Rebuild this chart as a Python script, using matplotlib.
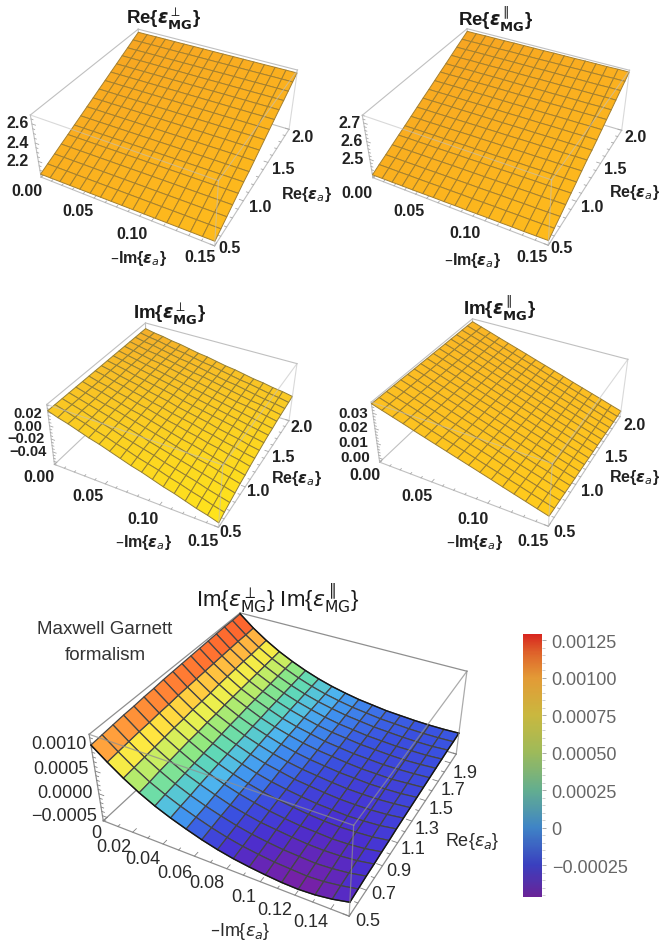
import numpy as np
import matplotlib
matplotlib.use("Agg")
import matplotlib.pyplot as plt
from matplotlib.colors import LinearSegmentedColormap, Normalize
from matplotlib.cm import ScalarMappable

plt.rcParams["font.family"] = ["Liberation Sans", "DejaVu Sans"]
plt.rcParams["mathtext.fontset"] = "dejavusans"

W, H = 661, 945

# grid of the surfaces
im_eps = [0.0, 0.009375, 0.01875, 0.028125, 0.0375, 0.046875, 0.05625, 0.065625, 0.075,
          0.084375, 0.09375, 0.103125, 0.1125, 0.121875, 0.13125, 0.140625, 0.15]
re_eps = [0.5, 0.59375, 0.6875, 0.78125, 0.875, 0.96875, 1.0625, 1.15625, 1.25,
          1.34375, 1.4375, 1.53125, 1.625, 1.71875, 1.8125, 1.90625, 2.0]

# rows go with re_eps, columns with im_eps
re_perp = np.array([
    [2055,2056,2057,2058,2059,2060,2061,2062,2063,2064,2065,2066,2067,2068,2069,2070,2071],
    [2093,2094,2095,2096,2097,2098,2099,2100,2101,2102,2103,2104,2105,2106,2107,2108,2109],
    [2130,2131,2132,2133,2134,2135,2136,2137,2138,2139,2140,2141,2142,2143,2144,2145,2146],
    [2168,2169,2170,2171,2172,2173,2174,2175,2176,2177,2178,2179,2180,2181,2182,2183,2184],
    [2205,2206,2207,2208,2209,2210,2211,2212,2213,2214,2215,2216,2217,2218,2219,2220,2221],
    [2243,2244,2245,2246,2247,2248,2249,2250,2251,2252,2253,2254,2255,2256,2257,2258,2259],
    [2280,2281,2281,2282,2282,2283,2283,2284,2284,2285,2285,2286,2286,2287,2287,2288,2288],
    [2318,2319,2319,2320,2320,2321,2321,2322,2322,2323,2323,2324,2324,2325,2325,2326,2326],
    [2355,2356,2356,2357,2357,2358,2358,2359,2359,2360,2360,2361,2361,2362,2362,2363,2363],
    [2393,2394,2394,2395,2395,2396,2396,2397,2397,2398,2398,2399,2399,2400,2400,2401,2401],
    [2430,2431,2431,2432,2432,2433,2433,2434,2434,2435,2435,2436,2436,2437,2437,2438,2438],
    [2468,2469,2469,2470,2470,2471,2471,2472,2472,2473,2473,2474,2474,2475,2475,2476,2476],
    [2505,2506,2506,2507,2507,2508,2508,2509,2509,2510,2510,2511,2511,2512,2512,2513,2513],
    [2543,2543,2544,2544,2544,2544,2545,2545,2545,2545,2546,2546,2546,2546,2547,2547,2547],
    [2580,2580,2581,2581,2581,2581,2582,2582,2582,2582,2583,2583,2583,2583,2584,2584,2584],
    [2618,2618,2619,2619,2619,2619,2620,2620,2620,2620,2621,2621,2621,2621,2622,2622,2622],
    [2655,2655,2656,2656,2656,2656,2657,2657,2657,2657,2658,2658,2658,2658,2659,2659,2659]]) * 1e-3

re_par = np.array([
    [2410,2411,2411,2412,2412,2413,2414,2414,2415,2415,2416,2417,2417,2418,2418,2419,2420],
    [2430,2431,2431,2432,2432,2433,2434,2434,2435,2435,2436,2437,2437,2438,2438,2439,2440],
    [2449,2450,2450,2451,2451,2452,2453,2453,2454,2454,2455,2456,2456,2457,2457,2458,2459],
    [2469,2470,2470,2471,2471,2472,2473,2473,2474,2474,2475,2476,2476,2477,2477,2478,2479],
    [2489,2490,2490,2491,2491,2492,2493,2493,2494,2494,2495,2496,2496,2497,2497,2498,2499],
    [2508,2509,2509,2510,2510,2511,2512,2512,2513,2513,2514,2515,2515,2516,2516,2517,2518],
    [2528,2529,2529,2530,2530,2531,2532,2532,2533,2533,2534,2535,2535,2536,2536,2537,2538],
    [2548,2549,2549,2550,2550,2551,2552,2552,2553,2553,2554,2555,2555,2556,2556,2557,2558],
    [2568,2568,2569,2569,2569,2570,2570,2570,2570,2571,2571,2571,2572,2572,2572,2573,2573],
    [2587,2587,2588,2588,2588,2589,2589,2589,2589,2590,2590,2590,2591,2591,2591,2592,2592],
    [2607,2607,2608,2608,2608,2609,2609,2609,2609,2610,2610,2610,2611,2611,2611,2612,2612],
    [2627,2627,2628,2628,2628,2629,2629,2629,2629,2630,2630,2630,2631,2631,2631,2632,2632],
    [2646,2646,2647,2647,2647,2648,2648,2648,2648,2649,2649,2649,2650,2650,2650,2651,2651],
    [2666,2666,2667,2667,2667,2668,2668,2668,2668,2669,2669,2669,2670,2670,2670,2671,2671],
    [2686,2686,2687,2687,2687,2688,2688,2688,2688,2689,2689,2689,2690,2690,2690,2691,2691],
    [2705,2705,2706,2706,2706,2707,2707,2707,2707,2708,2708,2708,2709,2709,2709,2710,2710],
    [2725,2725,2726,2726,2726,2727,2727,2727,2727,2728,2728,2728,2729,2729,2729,2730,2730]]) * 1e-3

im_perp = np.array([
    [22,17,13,8,3,-1,-6,-11,-16,-20,-25,-30,-34,-39,-44,-48,-53],
    [22,18,13,9,4,0,-5,-9,-14,-18,-22,-27,-31,-36,-40,-45,-49],
    [22,18,14,9,5,1,-4,-8,-12,-16,-21,-25,-29,-33,-38,-42,-46],
    [22,18,14,10,6,2,-2,-6,-11,-15,-19,-23,-27,-31,-35,-39,-43],
    [22,18,14,10,7,3,-1,-5,-9,-13,-17,-21,-25,-28,-32,-36,-40],
    [22,18,15,11,7,3,0,-4,-8,-12,-16,-19,-23,-27,-31,-34,-38],
    [22,18,15,11,8,4,1,-3,-7,-10,-14,-17,-21,-24,-28,-31,-35],
    [22,19,15,12,8,5,1,-2,-6,-9,-12,-16,-19,-23,-26,-30,-33],
    [22,19,15,12,9,5,2,-1,-5,-8,-11,-14,-18,-21,-24,-28,-31],
    [22,19,16,12,9,6,3,0,-4,-7,-10,-13,-16,-19,-23,-26,-29],
    [22,19,16,13,10,7,4,1,-3,-6,-9,-12,-15,-18,-21,-24,-27],
    [22,19,16,13,10,7,4,1,-2,-5,-8,-11,-14,-17,-20,-23,-26],
    [22,19,16,13,11,8,5,2,-1,-4,-7,-10,-13,-15,-18,-21,-24],
    [22,19,16,14,11,8,5,2,0,-3,-6,-9,-12,-15,-17,-20,-23],
    [22,19,17,14,11,8,6,3,0,-3,-6,-8,-11,-14,-17,-19,-22],
    [22,19,17,14,11,9,6,3,1,-2,-5,-8,-10,-13,-16,-18,-21],
    [22,19,17,14,12,9,6,4,1,-2,-4,-7,-10,-12,-15,-17,-20]]) * 1e-3

im_par = np.array([
    [360,340,320,300,279,259,239,219,199,179,159,139,118,98,78,58,38],
    [359,339,319,299,278,258,238,218,198,177,157,137,117,97,76,56,36],
    [359,339,319,298,278,258,238,217,197,177,157,136,116,96,76,55,35],
    [358,338,317,297,277,256,236,216,196,175,155,135,114,94,74,53,33],
    [358,338,317,297,276,256,235,215,195,174,154,133,113,92,72,51,31],
    [357,337,316,296,275,255,234,214,193,173,152,132,111,91,70,50,29],
    [356,336,315,295,274,254,233,213,192,172,151,131,110,90,69,49,28],
    [356,335,315,294,274,253,232,212,191,170,150,129,109,88,67,47,26],
    [355,334,314,293,272,252,231,210,190,169,148,127,107,86,65,45,24],
    [355,334,313,293,272,251,230,209,189,168,147,126,105,85,64,43,22],
    [354,333,312,292,271,250,229,208,188,167,146,125,104,84,63,42,21],
    [353,332,311,290,270,249,228,207,186,165,144,123,102,82,61,40,19],
    [353,332,311,290,269,248,227,206,185,164,143,122,101,80,59,38,17],
    [352,331,310,289,268,247,226,205,184,162,141,120,99,78,57,36,15],
    [352,331,310,289,267,246,225,204,183,162,141,120,98,77,56,35,14],
    [351,330,309,287,266,245,224,203,182,160,139,118,97,76,54,33,12],
    [350,329,308,286,265,244,223,201,180,159,138,116,95,74,53,31,10]]) * 1e-4

im_prod = np.array([
    [105,80,57,37,20,6,-6,-17,-26,-33,-38,-42,-45,-46,-44,-39,-31],
    [107,82,59,39,23,9,-3,-14,-23,-30,-35,-39,-41,-43,-41,-36,-29],
    [109,84,61,42,25,11,-1,-11,-20,-27,-32,-36,-38,-40,-38,-34,-27],
    [111,86,63,44,27,14,2,-9,-17,-24,-28,-32,-35,-36,-35,-32,-26],
    [112,87,65,46,29,16,4,-6,-14,-21,-26,-30,-32,-34,-33,-30,-24],
    [114,89,67,48,31,18,6,-4,-12,-18,-23,-27,-30,-31,-30,-28,-23],
    [115,90,68,49,33,20,8,-2,-10,-16,-21,-25,-27,-29,-28,-26,-21],
    [117,92,70,51,35,22,10,0,-7,-14,-18,-22,-25,-26,-26,-24,-20],
    [118,93,71,52,37,23,12,2,-6,-12,-16,-20,-23,-24,-24,-22,-19],
    [119,94,72,54,38,25,14,4,-4,-10,-14,-18,-20,-22,-22,-21,-18],
    [120,95,74,55,40,26,15,6,-2,-8,-12,-16,-19,-20,-21,-19,-17],
    [121,96,75,56,41,28,16,7,0,-7,-11,-15,-17,-19,-19,-18,-16],
    [122,97,76,57,42,29,18,9,1,-5,-9,-13,-15,-17,-18,-17,-15],
    [123,98,77,58,43,30,19,10,2,-4,-8,-12,-14,-16,-16,-16,-14],
    [124,99,77,59,44,31,20,11,4,-2,-6,-10,-12,-14,-15,-15,-13],
    [124,99,78,60,45,32,21,12,5,-1,-5,-9,-11,-13,-14,-14,-13],
    [125,100,79,61,46,33,22,13,6,0,-4,-8,-10,-12,-13,-13,-12]]) * 1e-5

# axis ranges and ticks
u_range = (0.0, 0.15)
v_range = (0.5, 2.0)
u_ticks = [0.0, 0.05, 0.10, 0.15]
u_labels = ["0.00", "0.05", "0.10", "0.15"]
v_ticks = [0.5, 1.0, 1.5, 2.0]
v_labels = ["0.5", "1.0", "1.5", "2.0"]
u_ticks5 = [0.0, 0.02, 0.04, 0.06, 0.08, 0.10, 0.12, 0.14]
u_labels5 = ["0", "0.02", "0.04", "0.06", "0.08", "0.1", "0.12", "0.14"]
v_ticks5 = [0.5, 0.7, 0.9, 1.1, 1.3, 1.5, 1.7, 1.9]
v_labels5 = ["0.5", "0.7", "0.9", "1.1", "1.3", "1.5", "1.7", "1.9"]
cbar_ticks = [-0.00025, 0, 0.00025, 0.0005, 0.00075, 0.001, 0.00125]
cbar_labels = ["\u22120.00025", "0", "0.00025", "0.00050", "0.00075", "0.00100", "0.00125"]
cbar_range = (-0.00046, 0.00129)

EPS_A = r"{$\boldsymbol{\epsilon}_{\mathit{a}}$}"
EPS_A5 = r"{$\epsilon_{a}$}"

panels = [
    dict(z=re_perp, zlim=(2.02, 2.69), title=r"Re{$\boldsymbol{\epsilon}^{\perp}_{\mathbf{MG}}$}", tpos=(164, 19),
         view=(36.257, -61.428, 0.171, 4.108), box=(1.253, 1.267, 0.500), org=(171.2, 821.2), s=600,
         zt=[2.2, 2.4, 2.6], zl=["2.2", "2.4", "2.6"], zstep=0.05, zfont=11.5,
         zpos=[(18, 161), (18, 143), (18, 124)],
         upos=[(27, 192), (78, 212), (132, 235), (200, 258)],
         vpos=[(230, 249), (260, 207), (283, 170), (303, 138)],
         relab=(307, 194), imlab=(139, 259), c=("#F7A522", "#FEBB1C"), edge="#A5802E"),
    dict(z=re_par, zlim=(2.393, 2.74), title=r"Re{$\boldsymbol{\epsilon}^{\parallel}_{\mathbf{MG}}$}", tpos=(496, 19),
         view=(36.563, -61.452, 0.512, 4.373), box=(1.419, 1.396, 0.566), org=(502.6, 820.6), s=639,
         zt=[2.5, 2.6, 2.7], zl=["2.5", "2.6", "2.7"], zstep=0.02, zfont=11.5,
         zpos=[(353, 159), (352, 142), (350, 124)],
         upos=[(357, 193), (409, 212), (465, 234), (532, 258)],
         vpos=[(562, 249), (592, 207), (615, 170), (636, 138)],
         relab=(635, 193), imlab=(473, 260), c=("#F7A522", "#FEBB1C"), edge="#A5802E"),
    dict(z=im_perp, zlim=(-0.06, 0.031), title=r"Im{$\boldsymbol{\epsilon}^{\perp}_{\mathbf{MG}}$}", tpos=(170, 314),
         view=(35.919, -62.700, -0.926, 4.745), box=(0.594, 0.603, 0.241), org=(177.7, 530.8), s=656,
         zt=[-0.04, -0.02, 0.0, 0.02], zl=["\u22120.04", "\u22120.02", "0.00", "0.02"], zstep=0.005, zfont=10.5,
         zpos=[(28, 452), (26, 439), (28, 427), (28, 414)],
         upos=[(39, 478), (88, 497), (143, 519), (203, 542)],
         vpos=[(231, 533), (258, 492), (283, 458), (302, 428)],
         relab=(297, 479), imlab=(144, 542), c=("#F5AE2A", "#FFE41C"), edge="#947F34"),
    dict(z=im_par, zlim=(-0.003, 0.037), title=r"Im{$\boldsymbol{\epsilon}^{\parallel}_{\mathbf{MG}}$}", tpos=(500, 308),
         view=(35.817, -62.349, -0.404, 4.611), box=(1.348, 1.361, 0.533), org=(505.8, 534.1), s=652,
         zt=[0.0, 0.01, 0.02, 0.03], zl=["0.00", "0.01", "0.02", "0.03"], zstep=0.002, zfont=11,
         zpos=[(355, 458), (353, 443), (353, 428), (353, 414)],
         upos=[(365, 476), (417, 497), (473, 519), (533, 542)],
         vpos=[(565, 533), (592, 492), (616, 458), (635, 425)],
         relab=(635, 478), imlab=(475, 542), c=("#FAB526", "#FFCB1C"), edge="#9C7E30"),
]

surf_cmap = LinearSegmentedColormap.from_list("surf5", [
    (0.00, "#7B1FA2"), (0.09, "#4A2FD0"), (0.18, "#3A50E0"), (0.263, "#3F8FEF"),
    (0.32, "#4FB8EE"), (0.406, "#5FD8B8"), (0.49, "#90E880"), (0.606, "#E8F050"),
    (0.69, "#FFE840"), (0.777, "#FFB040"), (0.89, "#FF7030"), (1.00, "#F02A20")])
bar_cmap = LinearSegmentedColormap.from_list("bar5", [
    (0.00, "#6A2397"), (0.12, "#3A3FBF"), (0.263, "#3F84C6"), (0.406, "#63AE8F"),
    (0.549, "#9DBA5A"), (0.691, "#C9B83F"), (0.834, "#E39A36"), (0.92, "#DF6A2C"), (1.00, "#D8261F")])

fig = plt.figure(figsize=(W / 100, H / 100), dpi=100)
FOCAL = 0.25


def make_axes(org, s, view, box, zlim):
    # 0.185 is the width of the 2D view of a 3D axes, 0.5135 where its origin sits
    w = 0.185 * s / FOCAL
    pos = [(org[0] - 0.5135 * w) / W, (org[1] - 0.5135 * w) / H, w / W, w / H]
    ax = fig.add_axes(pos, projection="3d", computed_zorder=False)
    ax.set_xlim(*u_range)
    ax.set_ylim(*v_range)
    ax.set_zlim(*zlim)
    ax.view_init(elev=view[0], azim=view[1], roll=view[2])
    # focal length shrinks the picture, _dist keeps the camera where it was fitted
    ax._dist = view[3] / FOCAL
    ax.set_box_aspect(box)
    ax.set_proj_type("persp", focal_length=FOCAL)
    ax.set_axis_off()
    ax.set_facecolor("none")
    return ax


def draw_box(ax, zlim, col, lw, over_alpha):
    u0, u1 = u_range
    v0, v1 = v_range
    z0, z1 = zlim
    hidden = [((u0, v0, z0), (u0, v1, z0)), ((u0, v1, z0), (u1, v1, z0)), ((u0, v1, z0), (u0, v1, z1))]
    back = [((u0, v0, z0), (u1, v0, z0)), ((u1, v0, z0), (u1, v1, z0)), ((u0, v0, z0), (u0, v0, z1)),
            ((u0, v0, z1), (u0, v1, z1)), ((u0, v1, z1), (u1, v1, z1))]
    front = [((u0, v0, z1), (u1, v0, z1)), ((u1, v0, z1), (u1, v1, z1)),
             ((u1, v0, z0), (u1, v0, z1)), ((u1, v1, z0), (u1, v1, z1))]
    for seg, zo, al in [(hidden, 0, 1), (back, 1, 1), (front, 4, over_alpha)]:
        for a, b in seg:
            ax.plot([a[0], b[0]], [a[1], b[1]], [a[2], b[2]], color=col, lw=lw, alpha=al, zorder=zo)


def draw_ticks(ax, zlim, ut, ustep, vt, vstep, zt, zstep, col):
    u0, u1 = u_range
    v0, v1 = v_range
    z0, z1 = zlim
    for x in np.arange(u0, u1 + 1e-9, ustep):
        n = 0.022 if min(abs(x - np.array(ut))) < 1e-6 else 0.012
        ax.plot([x, x], [v0, v0 + n * (v1 - v0)], [z0, z0], color=col, lw=0.6, zorder=1)
    for y in np.arange(v0, v1 + 1e-9, vstep):
        n = 0.022 if min(abs(y - np.array(vt))) < 1e-6 else 0.012
        ax.plot([u1, u1 - n * (u1 - u0)], [y, y], [z0, z0], color=col, lw=0.6, zorder=1)
    first = np.ceil(z0 / zstep) * zstep
    for q in np.arange(first, z1 + 1e-9, zstep):
        n = 0.022 if min(abs(q - np.array(zt))) < zstep / 4 else 0.012
        ax.plot([u0, u0 + n * (u1 - u0)], [v0, v0], [q, q], color=col, lw=0.6, zorder=1)


def put(x, y, s, **kw):
    fig.text(x / W, 1 - y / H, s, **kw)


lab = dict(fontsize=11.5, fontweight="bold", color="#222222", ha="center", va="center")
U, V = np.meshgrid(im_eps, re_eps)

for p in panels:
    ax = make_axes(p["org"], p["s"], p["view"], p["box"], p["zlim"])
    draw_box(ax, p["zlim"], "#c0c0c0", 0.8, 0.6)
    draw_ticks(ax, p["zlim"], u_ticks, 0.01, v_ticks, 0.1, p["zt"], p["zstep"], "#a8a8a8")
    # colour runs from the far left corner to the near right one
    t = (U / 0.15 + (2.0 - V) / 1.5) / 2
    cm = LinearSegmentedColormap.from_list("f", p["c"])
    ax.plot_surface(U, V, p["z"], rstride=1, cstride=1, facecolors=cm(t), shade=False,
                    edgecolor=p["edge"], linewidth=0.7, zorder=2)
    for (x, y), s in zip(p["zpos"], p["zl"]):
        put(x, y, s, **{**lab, "fontsize": p["zfont"]})
    for (x, y), s in zip(p["upos"], u_labels):
        put(x, y, s, **lab)
    for (x, y), s in zip(p["vpos"], v_labels):
        put(x, y, s, **lab)
    put(*p["relab"], "Re" + EPS_A, **lab)
    put(*p["imlab"], "\u2013Im" + EPS_A, **lab)
    put(*p["tpos"], p["title"], fontsize=13.5, fontweight="bold", color="#1a1a1a", ha="center", va="center")

# big panel
zlim5 = (-0.00062, 0.00127)
ax = make_axes((287.6, 199.0), 907, (35.968, -61.202, 0.371, 4.388), (1.103, 1.107, 0.430), zlim5)
draw_box(ax, zlim5, "#8f8f8f", 0.9, 0.75)
draw_ticks(ax, zlim5, u_ticks5, 0.01, v_ticks5, 0.1, [-0.0005, 0, 0.0005, 0.001], 0.0001, "#808080")
norm5 = Normalize(*cbar_range)
cell = (im_prod[:-1, :-1] + im_prod[1:, :-1] + im_prod[:-1, 1:] + im_prod[1:, 1:]) / 4
cell = np.pad(cell, ((0, 1), (0, 1)), mode="edge")
ax.plot_surface(U, V, im_prod, rstride=1, cstride=1, facecolors=surf_cmap(norm5(cell)), shade=False,
                edgecolor="#454545", linewidth=0.9, zorder=2)
# dark outline on three sides only, the u=0 side has none
for line in [(U[0], V[0], im_prod[0]), (U[-1], V[-1], im_prod[-1]), (U[:, -1], V[:, -1], im_prod[:, -1])]:
    ax.plot(*line, color="#151515", lw=1.0, zorder=3)

lab5 = dict(fontsize=13, color="#2a2a2a", ha="center", va="center")
for (x, y), s in zip([(87, 745), (89, 770), (93, 793), (97, 817)], ["0.0010", "0.0005", "0.0000", "\u22120.0005"]):
    put(x, y, s, fontsize=13, color="#2a2a2a", ha="right", va="center")
for (x, y), s in zip([(96, 833), (114, 848), (143, 860), (175, 873), (207, 884), (244, 898), (275, 911), (311, 923)], u_labels5):
    put(x, y, s, **lab5)
for (x, y), s in zip([(368, 922), (384, 895), (399, 872), (413, 850), (427, 830), (441, 810), (453, 791), (465, 773)], v_labels5):
    put(x, y, s, **lab5)
put(472, 842, "Re" + EPS_A5, **lab5)
put(240, 932, "\u2013Im" + EPS_A5, **lab5)
put(278, 598, r"Im{$\epsilon^{\perp}_{\mathrm{MG}}$} Im{$\epsilon^{\parallel}_{\mathrm{MG}}$}",
    fontsize=16, color="#1a1a1a", ha="center", va="center")
put(105, 630, "Maxwell Garnett", fontsize=13.5, color="#333333", ha="center", va="center")
put(105, 656, "formalism", fontsize=13.5, color="#333333", ha="center", va="center")

# colour bar
cax = fig.add_axes([523 / W, 1 - 898 / H, 19 / W, 263 / H])
cb = fig.colorbar(ScalarMappable(norm=norm5, cmap=bar_cmap), cax=cax, ticks=cbar_ticks)
cb.ax.set_yticklabels(cbar_labels)
cb.outline.set_visible(False)
cb.ax.minorticks_on()
cb.ax.tick_params(which="major", length=3, width=0.7, color="#aaaaaa", labelsize=13, labelcolor="#666666", pad=4)
cb.ax.tick_params(which="minor", length=2, width=0.5, color="#bbbbbb")

fig.savefig("out.png", dpi=100)
